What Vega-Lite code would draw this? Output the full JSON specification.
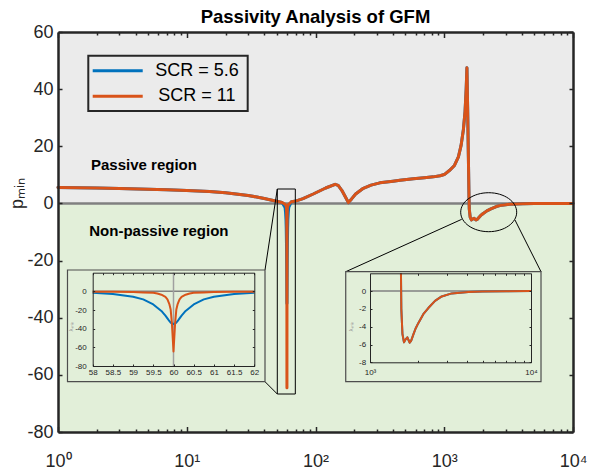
{
  "$schema": "https://vega.github.io/schema/vega-lite/v6.json",
  "width": 515,
  "height": 400,
  "autosize": {"type": "none"},
  "padding": {"left": 58, "top": 32, "right": 16, "bottom": 40},
  "background": "white",
  "config": {
    "font": "Liberation Sans",
    "view": {"stroke": null},
    "axis": {"grid": false, "domainColor": "#262626", "tickColor": "#262626", "labelColor": "#262626", "labelFont": "Liberation Sans", "titleFont": "Liberation Sans", "labelFlush": false, "labelOverlap": false}
  },
  "title": {"text": "Passivity Analysis of GFM", "fontSize": 18.5, "fontWeight": "bold", "color": "#000000", "anchor": "middle", "frame": "group", "offset": 10, "dy": 13},
  "datasets": {
    "curves": [
      {"f": 1, "p_scr5_6": 5.6, "p_scr11": 5.6},
      {"f": 2, "p_scr5_6": 5.4, "p_scr11": 5.4},
      {"f": 3, "p_scr5_6": 5.25, "p_scr11": 5.25},
      {"f": 5, "p_scr5_6": 5.0, "p_scr11": 5.0},
      {"f": 7, "p_scr5_6": 4.8, "p_scr11": 4.8},
      {"f": 10, "p_scr5_6": 4.5, "p_scr11": 4.5},
      {"f": 15, "p_scr5_6": 4.15, "p_scr11": 4.15},
      {"f": 20, "p_scr5_6": 3.7, "p_scr11": 3.7},
      {"f": 25, "p_scr5_6": 3.25, "p_scr11": 3.25},
      {"f": 30, "p_scr5_6": 2.8, "p_scr11": 2.8},
      {"f": 35, "p_scr5_6": 2.25, "p_scr11": 2.25},
      {"f": 40, "p_scr5_6": 1.7, "p_scr11": 1.7},
      {"f": 45, "p_scr5_6": 1.2, "p_scr11": 1.2},
      {"f": 50, "p_scr5_6": 0.75, "p_scr11": 0.75},
      {"f": 55, "p_scr5_6": 0.35, "p_scr11": 0.35},
      {"f": 58, "p_scr5_6": -1.4, "p_scr11": -0.3},
      {"f": 58.5, "p_scr5_6": -2.9, "p_scr11": -0.5},
      {"f": 59, "p_scr5_6": -5.8, "p_scr11": -0.8},
      {"f": 59.25, "p_scr5_6": -8.6, "p_scr11": -1.1},
      {"f": 59.5, "p_scr5_6": -14, "p_scr11": -1.4},
      {"f": 59.6, "p_scr5_6": -17.5, "p_scr11": -2.3},
      {"f": 59.7, "p_scr5_6": -21, "p_scr11": -3.6},
      {"f": 59.8, "p_scr5_6": -26, "p_scr11": -6},
      {"f": 59.85, "p_scr5_6": -29, "p_scr11": -8.6},
      {"f": 59.9, "p_scr5_6": -32, "p_scr11": -14},
      {"f": 59.93, "p_scr5_6": -33.5, "p_scr11": -19.5},
      {"f": 59.96, "p_scr5_6": -34.4, "p_scr11": -34},
      {"f": 60, "p_scr5_6": -35, "p_scr11": -64.5},
      {"f": 60.04, "p_scr5_6": -34.4, "p_scr11": -34},
      {"f": 60.07, "p_scr5_6": -33.5, "p_scr11": -19.5},
      {"f": 60.1, "p_scr5_6": -32, "p_scr11": -14},
      {"f": 60.15, "p_scr5_6": -29, "p_scr11": -8.6},
      {"f": 60.2, "p_scr5_6": -26, "p_scr11": -6},
      {"f": 60.3, "p_scr5_6": -21, "p_scr11": -3.6},
      {"f": 60.4, "p_scr5_6": -17.5, "p_scr11": -2.3},
      {"f": 60.5, "p_scr5_6": -14, "p_scr11": -1.4},
      {"f": 60.75, "p_scr5_6": -8.6, "p_scr11": -1.1},
      {"f": 61, "p_scr5_6": -5.8, "p_scr11": -0.8},
      {"f": 61.5, "p_scr5_6": -2.9, "p_scr11": -0.5},
      {"f": 62, "p_scr5_6": -1.4, "p_scr11": -0.3},
      {"f": 65, "p_scr5_6": 0.6, "p_scr11": 0.6},
      {"f": 71, "p_scr5_6": 0.9, "p_scr11": 0.9},
      {"f": 80, "p_scr5_6": 1.7, "p_scr11": 1.7},
      {"f": 96, "p_scr5_6": 3.3, "p_scr11": 3.3},
      {"f": 120, "p_scr5_6": 5.4, "p_scr11": 5.4},
      {"f": 142, "p_scr5_6": 6.7, "p_scr11": 6.7},
      {"f": 150, "p_scr5_6": 6.3, "p_scr11": 6.3},
      {"f": 160, "p_scr5_6": 4.6, "p_scr11": 4.6},
      {"f": 170, "p_scr5_6": 2.4, "p_scr11": 2.4},
      {"f": 180, "p_scr5_6": 0.3, "p_scr11": 0.3},
      {"f": 190, "p_scr5_6": 1.5, "p_scr11": 1.5},
      {"f": 205, "p_scr5_6": 3.3, "p_scr11": 3.3},
      {"f": 235, "p_scr5_6": 5.3, "p_scr11": 5.3},
      {"f": 270, "p_scr5_6": 6.4, "p_scr11": 6.4},
      {"f": 316, "p_scr5_6": 7.2, "p_scr11": 7.2},
      {"f": 400, "p_scr5_6": 7.8, "p_scr11": 7.8},
      {"f": 453, "p_scr5_6": 8.1, "p_scr11": 8.1},
      {"f": 575, "p_scr5_6": 8.6, "p_scr11": 8.6},
      {"f": 700, "p_scr5_6": 9.0, "p_scr11": 9.0},
      {"f": 822, "p_scr5_6": 9.3, "p_scr11": 9.3},
      {"f": 927, "p_scr5_6": 9.7, "p_scr11": 9.7},
      {"f": 1000, "p_scr5_6": 10.1, "p_scr11": 10.1},
      {"f": 1109, "p_scr5_6": 11.7, "p_scr11": 11.7},
      {"f": 1200, "p_scr5_6": 13.3, "p_scr11": 13.3},
      {"f": 1288, "p_scr5_6": 16.3, "p_scr11": 16.3},
      {"f": 1350, "p_scr5_6": 20.2, "p_scr11": 20.2},
      {"f": 1407, "p_scr5_6": 25.7, "p_scr11": 25.7},
      {"f": 1450, "p_scr5_6": 32, "p_scr11": 32},
      {"f": 1480, "p_scr5_6": 40, "p_scr11": 40},
      {"f": 1500, "p_scr5_6": 47.5, "p_scr11": 47.5},
      {"f": 1520, "p_scr5_6": 33, "p_scr11": 33},
      {"f": 1540, "p_scr5_6": 16, "p_scr11": 16},
      {"f": 1557, "p_scr5_6": 2, "p_scr11": 2},
      {"f": 1565, "p_scr5_6": -2, "p_scr11": -2},
      {"f": 1590, "p_scr5_6": -4.8, "p_scr11": -4.8},
      {"f": 1626, "p_scr5_6": -5.76, "p_scr11": -5.76},
      {"f": 1660, "p_scr5_6": -5.45, "p_scr11": -5.45},
      {"f": 1706, "p_scr5_6": -5.2, "p_scr11": -5.2},
      {"f": 1740, "p_scr5_6": -5.55, "p_scr11": -5.55},
      {"f": 1763, "p_scr5_6": -5.8, "p_scr11": -5.8},
      {"f": 1800, "p_scr5_6": -5.6, "p_scr11": -5.6},
      {"f": 1858, "p_scr5_6": -4.9, "p_scr11": -4.9},
      {"f": 1920, "p_scr5_6": -4.2, "p_scr11": -4.2},
      {"f": 1995, "p_scr5_6": -3.6, "p_scr11": -3.6},
      {"f": 2143, "p_scr5_6": -2.6, "p_scr11": -2.6},
      {"f": 2303, "p_scr5_6": -1.9, "p_scr11": -1.9},
      {"f": 2535, "p_scr5_6": -1.1, "p_scr11": -1.1},
      {"f": 2788, "p_scr5_6": -0.6, "p_scr11": -0.6},
      {"f": 3217, "p_scr5_6": -0.26, "p_scr11": -0.26},
      {"f": 4083, "p_scr5_6": -0.1, "p_scr11": -0.1},
      {"f": 5000, "p_scr5_6": -0.05, "p_scr11": -0.05},
      {"f": 7000, "p_scr5_6": -0.02, "p_scr11": -0.02},
      {"f": 10000, "p_scr5_6": 0, "p_scr11": 0}
    ]
  },
  "layer": [
    {
      "layer": [
        {"data": {"values": [{}]}, "mark": {"type": "rect", "fill": "#EBEBEB"},
         "encoding": {"x": {"datum": 1, "type": "quantitative", "scale": {"type": "log", "domain": [1, 10000]}, "axis": null}, "x2": {"datum": 10000},
                      "y": {"datum": 0, "type": "quantitative", "scale": {"domain": [-80, 60], "nice": false, "zero": false}, "axis": null}, "y2": {"datum": 60}}},
        {"data": {"values": [{}]}, "mark": {"type": "rect", "fill": "#E2EFD9"},
         "encoding": {"x": {"datum": 1, "type": "quantitative", "scale": {"type": "log", "domain": [1, 10000]}, "axis": null}, "x2": {"datum": 10000},
                      "y": {"datum": -80, "type": "quantitative", "scale": {"domain": [-80, 60], "nice": false, "zero": false}, "axis": null}, "y2": {"datum": 0}}},
        {"data": {"values": [{}]}, "mark": {"type": "rule", "stroke": "#808080", "strokeWidth": 2.5},
         "encoding": {"x": {"datum": 1, "type": "quantitative", "scale": {"type": "log", "domain": [1, 10000]}, "axis": null}, "x2": {"datum": 10000},
                      "y": {"datum": 0, "type": "quantitative", "scale": {"domain": [-80, 60], "nice": false, "zero": false}, "axis": null}}},
        {"data": {"name": "curves"}, "mark": {"type": "line", "stroke": "#0072BD", "strokeWidth": 3, "strokeJoin": "round", "strokeCap": "round"},
         "encoding": {"x": {"field": "f", "type": "quantitative", "scale": {"type": "log", "domain": [1, 10000]}, "axis": null},
                      "y": {"field": "p_scr5_6", "type": "quantitative", "scale": {"domain": [-80, 60], "nice": false, "zero": false}, "axis": null}}},
        {"data": {"name": "curves"}, "mark": {"type": "line", "stroke": "#D95319", "strokeWidth": 3, "strokeJoin": "round", "strokeCap": "round"},
         "encoding": {"x": {"field": "f", "type": "quantitative", "scale": {"type": "log", "domain": [1, 10000]}, "axis": null},
                      "y": {"field": "p_scr11", "type": "quantitative", "scale": {"domain": [-80, 60], "nice": false, "zero": false}, "axis": null}}},
        {"data": {"values": [{}]}, "mark": {"type": "rect", "filled": false, "stroke": "#000000", "strokeWidth": 1},
         "encoding": {"x": {"datum": 50.5, "type": "quantitative", "scale": {"type": "log", "domain": [1, 10000]}, "axis": null}, "x2": {"datum": 69.7},
                      "y": {"datum": -66.7, "type": "quantitative", "scale": {"domain": [-80, 60], "nice": false, "zero": false}, "axis": null}, "y2": {"datum": 5.05}}},
        {"data": {"values": [{}]}, "mark": {"type": "point", "shape": "M-1,0A1,0.696,0,1,1,1,0A1,0.696,0,1,1,-1,0Z", "size": 3136, "filled": false, "stroke": "#000000", "strokeWidth": 1, "opacity": 1},
         "encoding": {"x": {"datum": 2214, "type": "quantitative", "scale": {"type": "log", "domain": [1, 10000]}, "axis": null},
                      "y": {"datum": -3.07, "type": "quantitative", "scale": {"domain": [-80, 60], "nice": false, "zero": false}, "axis": null}}},
        {"data": {"values": [{}]}, "mark": {"type": "rule", "stroke": "#000000", "strokeWidth": 1},
         "encoding": {"x": {"datum": 50.5, "type": "quantitative", "scale": {"type": "log", "domain": [1, 10000]}, "axis": null}, "x2": {"datum": 40.53},
                      "y": {"datum": 5.05, "type": "quantitative", "scale": {"domain": [-80, 60], "nice": false, "zero": false}, "axis": null}, "y2": {"datum": -23.3}}},
        {"data": {"values": [{}]}, "mark": {"type": "rule", "stroke": "#000000", "strokeWidth": 1},
         "encoding": {"x": {"datum": 50.5, "type": "quantitative", "scale": {"type": "log", "domain": [1, 10000]}, "axis": null}, "x2": {"datum": 40.53},
                      "y": {"datum": -66.7, "type": "quantitative", "scale": {"domain": [-80, 60], "nice": false, "zero": false}, "axis": null}, "y2": {"datum": -62.4}}},
        {"data": {"values": [{}]}, "mark": {"type": "rule", "stroke": "#000000", "strokeWidth": 1},
         "encoding": {"x": {"datum": 1366, "type": "quantitative", "scale": {"type": "log", "domain": [1, 10000]}, "axis": null}, "x2": {"datum": 171.7},
                      "y": {"datum": -5.56, "type": "quantitative", "scale": {"domain": [-80, 60], "nice": false, "zero": false}, "axis": null}, "y2": {"datum": -23.9}}},
        {"data": {"values": [{}]}, "mark": {"type": "rule", "stroke": "#000000", "strokeWidth": 1},
         "encoding": {"x": {"datum": 3544, "type": "quantitative", "scale": {"type": "log", "domain": [1, 10000]}, "axis": null}, "x2": {"datum": 5643},
                      "y": {"datum": -5.8, "type": "quantitative", "scale": {"domain": [-80, 60], "nice": false, "zero": false}, "axis": null}, "y2": {"datum": -23.9}}},
        {"data": {"values": [{}]}, "mark": {"type": "rect", "fill": "#E2EFD9", "stroke": "#4D4D4D", "strokeWidth": 1.2},
         "encoding": {"x": {"datum": 1.185, "type": "quantitative", "scale": {"type": "log", "domain": [1, 10000]}, "axis": null}, "x2": {"datum": 40.53},
                      "y": {"datum": -62.4, "type": "quantitative", "scale": {"domain": [-80, 60], "nice": false, "zero": false}, "axis": null}, "y2": {"datum": -23.3}}},
        {"data": {"values": [{}]}, "mark": {"type": "rect", "fill": "#E2EFD9", "stroke": "#4D4D4D", "strokeWidth": 1.2},
         "encoding": {"x": {"datum": 171.7, "type": "quantitative", "scale": {"type": "log", "domain": [1, 10000]}, "axis": null}, "x2": {"datum": 5643},
                      "y": {"datum": -62.4, "type": "quantitative", "scale": {"domain": [-80, 60], "nice": false, "zero": false}, "axis": null}, "y2": {"datum": -23.9}}},
        {"data": {"values": [{}]}, "mark": {"type": "text", "text": "Passive region", "align": "left", "baseline": "middle", "fontSize": 15, "fontWeight": "bold", "color": "#000000"},
         "encoding": {"x": {"datum": 1.804, "type": "quantitative", "scale": {"type": "log", "domain": [1, 10000]}, "axis": null},
                      "y": {"datum": 13.45, "type": "quantitative", "scale": {"domain": [-80, 60], "nice": false, "zero": false}, "axis": null}}},
        {"data": {"values": [{}]}, "mark": {"type": "text", "text": "Non-passive region", "align": "left", "baseline": "middle", "fontSize": 15, "fontWeight": "bold", "color": "#000000"},
         "encoding": {"x": {"datum": 1.75, "type": "quantitative", "scale": {"type": "log", "domain": [1, 10000]}, "axis": null},
                      "y": {"datum": -9.55, "type": "quantitative", "scale": {"domain": [-80, 60], "nice": false, "zero": false}, "axis": null}}},
        {"data": {"values": [{}]}, "mark": {"type": "rect", "fill": "#EBEBEB", "stroke": "#262626", "strokeWidth": 2},
         "encoding": {"x": {"datum": 1.719, "type": "quantitative", "scale": {"type": "log", "domain": [1, 10000]}, "axis": null}, "x2": {"datum": 29.74},
                      "y": {"datum": 32.35, "type": "quantitative", "scale": {"domain": [-80, 60], "nice": false, "zero": false}, "axis": null}, "y2": {"datum": 51.7}}},
        {"data": {"values": [{}]}, "mark": {"type": "rule", "stroke": "#0072BD", "strokeWidth": 3},
         "encoding": {"x": {"datum": 1.86, "type": "quantitative", "scale": {"type": "log", "domain": [1, 10000]}, "axis": null}, "x2": {"datum": 4.55},
                      "y": {"datum": 46.45, "type": "quantitative", "scale": {"domain": [-80, 60], "nice": false, "zero": false}, "axis": null}}},
        {"data": {"values": [{}]}, "mark": {"type": "rule", "stroke": "#D95319", "strokeWidth": 3},
         "encoding": {"x": {"datum": 1.86, "type": "quantitative", "scale": {"type": "log", "domain": [1, 10000]}, "axis": null}, "x2": {"datum": 4.55},
                      "y": {"datum": 37.5, "type": "quantitative", "scale": {"domain": [-80, 60], "nice": false, "zero": false}, "axis": null}}},
        {"data": {"values": [{}]}, "mark": {"type": "text", "text": "SCR = 5.6", "align": "center", "baseline": "middle", "fontSize": 18, "color": "#000000"},
         "encoding": {"x": {"datum": 12.0, "type": "quantitative", "scale": {"type": "log", "domain": [1, 10000]}, "axis": null},
                      "y": {"datum": 46.45, "type": "quantitative", "scale": {"domain": [-80, 60], "nice": false, "zero": false}, "axis": null}}},
        {"data": {"values": [{}]}, "mark": {"type": "text", "text": "SCR = 11", "align": "center", "baseline": "middle", "fontSize": 18, "color": "#000000"},
         "encoding": {"x": {"datum": 12.0, "type": "quantitative", "scale": {"type": "log", "domain": [1, 10000]}, "axis": null},
                      "y": {"datum": 37.5, "type": "quantitative", "scale": {"domain": [-80, 60], "nice": false, "zero": false}, "axis": null}}}
      ]
    },
    {
      "layer": [
        {"data": {"values": [{}]}, "mark": {"type": "rule", "stroke": "#808080", "strokeWidth": 1.5},
         "encoding": {"x": {"datum": 58, "type": "quantitative", "scale": {"domain": [58, 62], "range": [34.7, 196.3], "nice": false, "zero": false}, "axis": null}, "x2": {"datum": 62},
                      "y": {"datum": 0, "type": "quantitative", "scale": {"domain": [-80, 20], "range": [334, 240.7], "nice": false, "zero": false}, "axis": null}}},
        {"data": {"values": [{}]}, "mark": {"type": "rule", "stroke": "#A0A0A0", "strokeWidth": 1.5},
         "encoding": {"x": {"datum": 60, "type": "quantitative", "scale": {"domain": [58, 62], "range": [34.7, 196.3], "nice": false, "zero": false}, "axis": null},
                      "y": {"datum": -80, "type": "quantitative", "scale": {"domain": [-80, 20], "range": [334, 240.7], "nice": false, "zero": false}, "axis": null}, "y2": {"datum": 20}}},
        {"data": {"name": "curves"}, "transform": [{"filter": "datum.f >= 58 && datum.f <= 62"}],
         "mark": {"type": "line", "stroke": "#0072BD", "strokeWidth": 2, "strokeJoin": "round"},
         "encoding": {"x": {"field": "f", "type": "quantitative", "scale": {"domain": [58, 62], "range": [34.7, 196.3], "nice": false, "zero": false}, "axis": null},
                      "y": {"field": "p_scr5_6", "type": "quantitative", "scale": {"domain": [-80, 20], "range": [334, 240.7], "nice": false, "zero": false}, "axis": null}}},
        {"data": {"name": "curves"}, "transform": [{"filter": "datum.f >= 58 && datum.f <= 62"}],
         "mark": {"type": "line", "stroke": "#D95319", "strokeWidth": 2, "strokeJoin": "round"},
         "encoding": {"x": {"field": "f", "type": "quantitative", "scale": {"domain": [58, 62], "range": [34.7, 196.3], "nice": false, "zero": false}, "axis": null},
                      "y": {"field": "p_scr11", "type": "quantitative", "scale": {"domain": [-80, 20], "range": [334, 240.7], "nice": false, "zero": false}, "axis": null}}}
      ]
    },
    {
      "data": {"values": [{}]},
      "mark": {"type": "point", "opacity": 0},
      "encoding": {
        "x": {"datum": 58, "type": "quantitative", "scale": {"domain": [58, 62], "range": [34.7, 196.3], "nice": false, "zero": false},
              "axis": {"orient": "bottom", "zindex": 1, "offset": -66, "values": [58, 58.5, 59, 59.5, 60, 60.5, 61, 61.5, 62], "labelExpr": "'' + datum.value", "tickSize": -2, "labelPadding": 10, "labelBaseline": "alphabetic", "labelFontSize": 8, "domainWidth": 1, "title": null}},
        "y": {"datum": 0, "type": "quantitative", "scale": {"domain": [-80, 20], "range": [334, 240.7], "nice": false, "zero": false},
              "axis": {"orient": "left", "zindex": 1, "offset": -34.7, "values": [-80, -60, -40, -20, 0], "labelExpr": "'' + datum.value", "tickSize": -2, "labelPadding": 8.5, "labelFontSize": 8, "domainWidth": 1,
                       "title": "λₘᵢₙ", "titleFontSize": 6, "titleFontWeight": "normal", "titleColor": "#9A9A9A", "titleX": -20.7, "titleY": 294, "titleAlign": "center", "titleBaseline": "alphabetic", "titleAngle": 270}}
      }
    },
    {
      "data": {"values": [{}]},
      "mark": {"type": "point", "opacity": 0},
      "encoding": {
        "x": {"datum": 58, "type": "quantitative", "scale": {"domain": [58, 62], "range": [34.7, 196.3], "nice": false, "zero": false},
              "axis": {"orient": "top", "zindex": 1, "offset": -240.7, "values": [58, 58.25, 58.5, 58.75, 59, 59.25, 59.5, 59.75, 60, 60.25, 60.5, 60.75, 61, 61.25, 61.5, 61.75, 62], "labels": false, "tickSize": -2, "domainWidth": 1, "title": null}},
        "y": {"datum": 0, "type": "quantitative", "scale": {"domain": [-80, 20], "range": [334, 240.7], "nice": false, "zero": false},
              "axis": {"orient": "right", "zindex": 1, "offset": -318.7, "values": [-80, -60, -40, -20, 0], "labels": false, "tickSize": -2, "domainWidth": 1, "title": null}}
      }
    },
    {
      "layer": [
        {"data": {"values": [{}]}, "mark": {"type": "rule", "stroke": "#808080", "strokeWidth": 1.5},
         "encoding": {"x": {"datum": 1000, "type": "quantitative", "scale": {"type": "log", "domain": [1000, 10000], "range": [312, 473]}, "axis": null}, "x2": {"datum": 10000},
                      "y": {"datum": 0, "type": "quantitative", "scale": {"domain": [-8, 2], "range": [330.3, 241.3], "nice": false, "zero": false}, "axis": null}}},
        {"data": {"name": "curves"}, "transform": [{"filter": "datum.f >= 1000 && datum.p_scr5_6 <= 2"}],
         "mark": {"type": "line", "stroke": "#0072BD", "strokeWidth": 2, "strokeJoin": "round"},
         "encoding": {"x": {"field": "f", "type": "quantitative", "scale": {"type": "log", "domain": [1000, 10000], "range": [312, 473]}, "axis": null},
                      "y": {"field": "p_scr5_6", "type": "quantitative", "scale": {"domain": [-8, 2], "range": [330.3, 241.3], "nice": false, "zero": false}, "axis": null}}},
        {"data": {"name": "curves"}, "transform": [{"filter": "datum.f >= 1000 && datum.p_scr11 <= 2"}],
         "mark": {"type": "line", "stroke": "#D95319", "strokeWidth": 2, "strokeJoin": "round"},
         "encoding": {"x": {"field": "f", "type": "quantitative", "scale": {"type": "log", "domain": [1000, 10000], "range": [312, 473]}, "axis": null},
                      "y": {"field": "p_scr11", "type": "quantitative", "scale": {"domain": [-8, 2], "range": [330.3, 241.3], "nice": false, "zero": false}, "axis": null}}}
      ]
    },
    {
      "data": {"values": [{}]},
      "mark": {"type": "point", "opacity": 0},
      "encoding": {
        "x": {"datum": 1000, "type": "quantitative", "scale": {"type": "log", "domain": [1000, 10000], "range": [312, 473]},
              "axis": {"orient": "bottom", "zindex": 1, "offset": -69.7, "values": [1000, 2000, 3000, 4000, 5000, 6000, 7000, 8000, 9000, 10000], "labelExpr": "datum.value == 1000 ? '10³' : (datum.value == 10000 ? '10⁴' : '')", "tickSize": -2, "labelPadding": 14, "labelBaseline": "alphabetic", "labelFontSize": 8, "domainWidth": 1, "title": null}},
        "y": {"datum": 0, "type": "quantitative", "scale": {"domain": [-8, 2], "range": [330.3, 241.3], "nice": false, "zero": false},
              "axis": {"orient": "left", "zindex": 1, "offset": -312, "values": [-8, -6, -4, -2, 0], "labelExpr": "'' + datum.value", "tickSize": -2, "labelPadding": 6.3, "labelFontSize": 8, "domainWidth": 1,
                       "title": "λₘᵢₙ", "titleFontSize": 6, "titleFontWeight": "normal", "titleColor": "#9A9A9A", "titleX": -17.7, "titleY": 294, "titleAlign": "center", "titleBaseline": "alphabetic", "titleAngle": 270}}
      }
    },
    {
      "data": {"values": [{}]},
      "mark": {"type": "point", "opacity": 0},
      "encoding": {
        "x": {"datum": 1000, "type": "quantitative", "scale": {"type": "log", "domain": [1000, 10000], "range": [312, 473]},
              "axis": {"orient": "top", "zindex": 1, "offset": -241.3, "values": [1000, 2000, 3000, 4000, 5000, 6000, 7000, 8000, 9000, 10000], "labels": false, "tickSize": -2, "domainWidth": 1, "title": null}},
        "y": {"datum": 0, "type": "quantitative", "scale": {"domain": [-8, 2], "range": [330.3, 241.3], "nice": false, "zero": false},
              "axis": {"orient": "right", "zindex": 1, "offset": -42, "values": [-8, -6, -4, -2, 0], "labels": false, "tickSize": -2, "domainWidth": 1, "title": null}}
      }
    },
    {
      "data": {"values": [{}]},
      "mark": {"type": "point", "opacity": 0},
      "encoding": {
        "x": {"datum": 1, "type": "quantitative", "scale": {"type": "log", "domain": [1, 10000]},
              "axis": {"orient": "bottom", "zindex": 1, "values": [1, 2, 3, 4, 5, 6, 7, 8, 9, 10, 20, 30, 40, 50, 60, 70, 80, 90, 100, 200, 300, 400, 500, 600, 700, 800, 900, 1000, 2000, 3000, 4000, 5000, 6000, 7000, 8000, 9000, 10000],
                       "labelExpr": "abs(log(datum.value) / LN10 - round(log(datum.value) / LN10)) < 0.001 ? '10' + ['⁰', '¹', '²', '³', '⁴'][round(log(datum.value) / LN10)] : ''",
                       "tickSize": {"condition": {"test": "abs(log(datum.value) / LN10 - round(log(datum.value) / LN10)) < 0.001", "value": -5.5}, "value": -3},
                       "labelPadding": 40, "labelBaseline": "alphabetic", "labelFontSize": 18, "domainWidth": 2.5, "tickWidth": 1.5, "title": null}},
        "y": {"datum": 0, "type": "quantitative", "scale": {"domain": [-80, 60], "nice": false, "zero": false},
              "axis": {"orient": "left", "zindex": 1, "values": [-80, -60, -40, -20, 0, 20, 40, 60], "labelExpr": "'' + datum.value", "tickSize": -4, "tickWidth": 1.5, "labelPadding": 9, "labelFontSize": 18, "domainWidth": 2.5,
                       "title": "pₘᵢₙ", "titleFontSize": 18, "titleFontWeight": "normal", "titleColor": "#262626", "titleX": -35.2, "titleY": 161, "titleAlign": "center", "titleBaseline": "alphabetic", "titleAngle": 270}}
      }
    },
    {
      "data": {"values": [{}]},
      "mark": {"type": "point", "opacity": 0},
      "encoding": {
        "x": {"datum": 1, "type": "quantitative", "scale": {"type": "log", "domain": [1, 10000]},
              "axis": {"orient": "top", "zindex": 1, "values": [1, 2, 3, 4, 5, 6, 7, 8, 9, 10, 20, 30, 40, 50, 60, 70, 80, 90, 100, 200, 300, 400, 500, 600, 700, 800, 900, 1000, 2000, 3000, 4000, 5000, 6000, 7000, 8000, 9000, 10000],
                       "labels": false,
                       "tickSize": {"condition": {"test": "abs(log(datum.value) / LN10 - round(log(datum.value) / LN10)) < 0.001", "value": -5.5}, "value": -3},
                       "domainWidth": 2.5, "tickWidth": 1.5, "title": null}},
        "y": {"datum": 0, "type": "quantitative", "scale": {"domain": [-80, 60], "nice": false, "zero": false},
              "axis": {"orient": "right", "zindex": 1, "values": [-80, -60, -40, -20, 0, 20, 40, 60], "labels": false, "tickSize": -4, "tickWidth": 1.5, "domainWidth": 2.5, "title": null}}
      }
    }
  ],
  "resolve": {"scale": {"x": "independent", "y": "independent"}}
}
